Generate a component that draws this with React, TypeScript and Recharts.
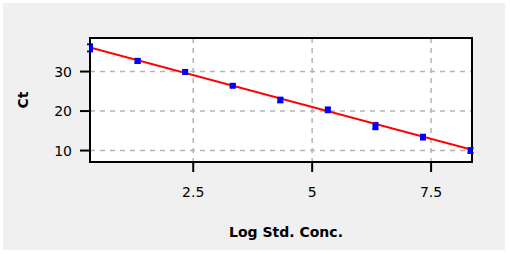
import {
    ComposedChart,
    Scatter,
    ErrorBar,
    XAxis,
    YAxis,
    CartesianGrid,
    ReferenceArea,
} from "recharts";

// log std. concentration of each standard
const logConc = [0.33, 1.33, 2.33, 3.33, 4.33, 5.33, 6.33, 7.33, 8.33];
// mean Ct per standard
const ctMean = [36.0, 32.7, 29.9, 26.4, 22.8, 20.3, 16.2, 13.4, 10.0];
// +/- error per standard
const ctErr = [0.9, 0.5, 0.3, 0.3, 0.6, 0.6, 0.8, 0.6, 0.6];

// regression line end points
const fitX = [0.33, 8.36];
const fitY = [36.1, 10.2];

const xTicks = [2.5, 5, 7.5];
const yTicks = [10, 20, 30];
const xDomain = [0.33, 8.36];
const yDomain = [7.1, 38.5];

const points = logConc.map((x, i) => ({ x, y: ctMean[i], err: ctErr[i] }));
const fitLine = fitX.map((x, i) => ({ x, y: fitY[i] }));

const tickStyle = { fontSize: 14, fill: "#000", fontFamily: "DejaVu Sans" };

const Square = (props: any) => {
    const { cx, cy } = props;
    if (cx == null || cy == null) return <g />;
    return <rect x={cx - 3} y={cy - 3} width={6} height={6} fill="#0000ff" />;
};

export default function App() {
    return (
        <div
            style={{
                position: "absolute",
                left: 0,
                top: 0,
                width: 510,
                height: 254,
                background: "#ffffff",
            }}
        >
            <div
                style={{
                    position: "absolute",
                    left: 3,
                    top: 3,
                    width: 502,
                    height: 247,
                    background: "#f0f0f0",
                }}
            />
            <div style={{ position: "absolute", left: 0, top: 0 }}>
                <ComposedChart
                    width={510}
                    height={254}
                    margin={{ top: 38, right: 38, left: 0, bottom: 0 }}
                >
                    <CartesianGrid
                        stroke="#b4b4b4"
                        strokeDasharray="5 5"
                        strokeWidth={1.5}
                        fill="#ffffff"
                        fillOpacity={1}
                        horizontalValues={yTicks}
                        verticalValues={xTicks}
                    />
                    <XAxis
                        type="number"
                        dataKey="x"
                        domain={xDomain}
                        ticks={xTicks}
                        allowDataOverflow
                        height={92}
                        tickSize={10}
                        tickMargin={15}
                        tick={tickStyle}
                        axisLine={{ stroke: "#000", strokeWidth: 2 }}
                        tickLine={{ stroke: "#000", strokeWidth: 2 }}
                        label={{
                            value: "Log Std. Conc.",
                            position: "insideBottom",
                            offset: 17,
                            dx: 5,
                            style: {
                                fontSize: 14,
                                fontWeight: "bold",
                                fill: "#000",
                                fontFamily: "DejaVu Sans",
                            },
                        }}
                    />
                    <YAxis
                        type="number"
                        domain={yDomain}
                        ticks={yTicks}
                        allowDataOverflow
                        width={90}
                        tickSize={10}
                        tickMargin={8}
                        tick={tickStyle}
                        axisLine={{ stroke: "#000", strokeWidth: 2 }}
                        tickLine={{ stroke: "#000", strokeWidth: 2 }}
                        label={{
                            content: (p: any) => {
                                const vb = p.viewBox || { x: 0, y: 38, height: 124 };
                                const cx = vb.x + 23;
                                const cy = vb.y + vb.height / 2;
                                return (
                                    <text
                                        x={cx}
                                        y={cy}
                                        transform={`rotate(-90 ${cx} ${cy})`}
                                        textAnchor="middle"
                                        dominantBaseline="central"
                                        fontSize={14}
                                        fontWeight="bold"
                                        fill="#000"
                                        fontFamily="DejaVu Sans"
                                    >
                                        Ct
                                    </text>
                                );
                            },
                        }}
                    />
                    <Scatter
                        data={fitLine}
                        dataKey="y"
                        line={{ stroke: "#ff0000", strokeWidth: 2 }}
                        shape={() => <g />}
                        isAnimationActive={false}
                    />
                    <Scatter
                        data={points}
                        dataKey="y"
                        shape={Square}
                        isAnimationActive={false}
                    >
                        <ErrorBar
                            dataKey="err"
                            direction="y"
                            width={3}
                            stroke="#0000ff"
                            strokeWidth={2}
                            isAnimationActive={false}
                        />
                    </Scatter>
                    <ReferenceArea
                        x1={xDomain[0]}
                        x2={xDomain[1]}
                        y1={yDomain[0]}
                        y2={yDomain[1]}
                        fill="none"
                        fillOpacity={0}
                        stroke="#000"
                        strokeWidth={2}
                        ifOverflow="visible"
                    />
                </ComposedChart>
            </div>
        </div>
    );
}
